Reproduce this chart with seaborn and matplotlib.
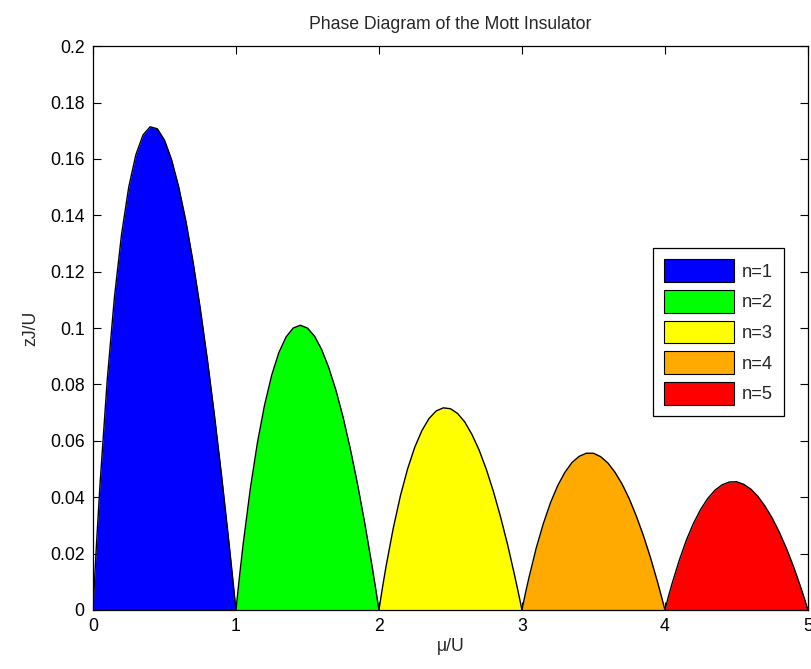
import numpy as np
import pandas as pd
import matplotlib
matplotlib.use("Agg")
import matplotlib.pyplot as plt
from matplotlib.patches import Patch
import seaborn as sns

# Position inside each lobe, measured from its left edge (mu/U = n-1)
lobe_offsets = [0.0, 0.025, 0.05, 0.1, 0.15, 0.2, 0.25, 0.3, 0.35, 0.4, 0.45,
                0.5, 0.55, 0.6, 0.65, 0.7, 0.75, 0.8, 0.85, 0.9, 0.95, 0.975, 1.0]

# Upper boundary zJ/U of each Mott lobe
lobe_n1 = [0.0, 0.0238, 0.0452, 0.0818, 0.1109, 0.1333, 0.1500, 0.1615, 0.1685, 0.1714, 0.1707,
           0.1667, 0.1597, 0.1500, 0.1379, 0.1235, 0.1071, 0.0889, 0.0689, 0.0474, 0.0244, 0.0123, 0.0]
lobe_n2 = [0.0, 0.0120, 0.0232, 0.0429, 0.0593, 0.0727, 0.0833, 0.0913, 0.0968, 0.1000, 0.1010,
           0.1000, 0.0971, 0.0923, 0.0858, 0.0778, 0.0682, 0.0571, 0.0447, 0.0310, 0.0161, 0.0082, 0.0]
lobe_n3 = [0.0, 0.0081, 0.0156, 0.0290, 0.0405, 0.0500, 0.0577, 0.0636, 0.0679, 0.0706, 0.0717,
           0.0714, 0.0697, 0.0667, 0.0623, 0.0568, 0.0500, 0.0421, 0.0331, 0.0231, 0.0120, 0.0061, 0.0]
lobe_n4 = [0.0, 0.0061, 0.0117, 0.0220, 0.0307, 0.0381, 0.0441, 0.0488, 0.0523, 0.0545, 0.0556,
           0.0556, 0.0544, 0.0522, 0.0489, 0.0447, 0.0395, 0.0333, 0.0263, 0.0184, 0.0096, 0.0049, 0.0]
lobe_n5 = [0.0, 0.0049, 0.0094, 0.0176, 0.0248, 0.0308, 0.0357, 0.0396, 0.0425, 0.0444, 0.0454,
           0.0455, 0.0446, 0.0429, 0.0403, 0.0368, 0.0326, 0.0276, 0.0218, 0.0153, 0.0080, 0.0041, 0.0]

occupations = [1, 2, 3, 4, 5]
labels = ["n=1", "n=2", "n=3", "n=4", "n=5"]
colors = ["#0000FF", "#00FF00", "#FFFF00", "#FFAA00", "#FF0000"]

x_ticks = [0, 1, 2, 3, 4, 5]
y_ticks = [0, 0.02, 0.04, 0.06, 0.08, 0.1, 0.12, 0.14, 0.16, 0.18, 0.2]

lobes = [lobe_n1, lobe_n2, lobe_n3, lobe_n4, lobe_n5]
frames = []
for n, lab, vals in zip(occupations, labels, lobes):
    frames.append(pd.DataFrame({
        "mu": (n - 1) + np.asarray(lobe_offsets),
        "zJ": vals,
        "lobe": lab,
    }))
df = pd.concat(frames, ignore_index=True)

sns.set_style("ticks")
plt.rcParams["font.family"] = ["Liberation Sans", "DejaVu Sans"]
plt.rcParams["font.size"] = 12.7

fig = plt.figure(figsize=(8.12, 6.69), dpi=100)
ax = fig.add_axes([0.1145, 0.0882, 0.8805, 0.8428])

for lab, col in zip(labels, colors):
    sub = df[df["lobe"] == lab]
    ax.fill_between(sub["mu"], 0, sub["zJ"], color=col, linewidth=0, zorder=2)

sns.lineplot(data=df, x="mu", y="zJ", units="lobe", estimator=None,
             color="black", linewidth=1.0, sort=False, ax=ax, zorder=3)

ax.set_xlim(0, 5)
ax.set_ylim(0, 0.2)
ax.set_xticks(x_ticks)
ax.set_xticklabels([f"{v:g}" for v in x_ticks])
ax.set_yticks(y_ticks)
ax.set_yticklabels([f"{v:g}" for v in y_ticks])
ax.tick_params(direction="in", length=6, width=0.8, top=True, right=True,
               labelsize=12.7, colors="black", pad=6)
for side in ax.spines.values():
    side.set_visible(True)
    side.set_linewidth(0.9)
    side.set_color("black")

ax.set_xlabel("μ/U", fontsize=12.7, labelpad=2)
ax.set_ylabel("zJ/U", fontsize=12.7, labelpad=8)
ax.set_title("Phase Diagram of the Mott Insulator", fontsize=12.7, pad=12)

handles = [Patch(facecolor=c, edgecolor="black", linewidth=0.8) for c in colors]
leg = fig.legend(handles, labels, loc="upper left",
                 bbox_to_anchor=(0.804, 0.629), bbox_transform=fig.transFigure,
                 fancybox=False, framealpha=1, edgecolor="black",
                 handlelength=3.8, handleheight=1.55, handletextpad=0.45,
                 labelspacing=0.42, borderpad=0.6, borderaxespad=0,
                 fontsize=13.2)
leg.get_frame().set_linewidth(0.9)

fig.savefig("out.png", dpi=100)
